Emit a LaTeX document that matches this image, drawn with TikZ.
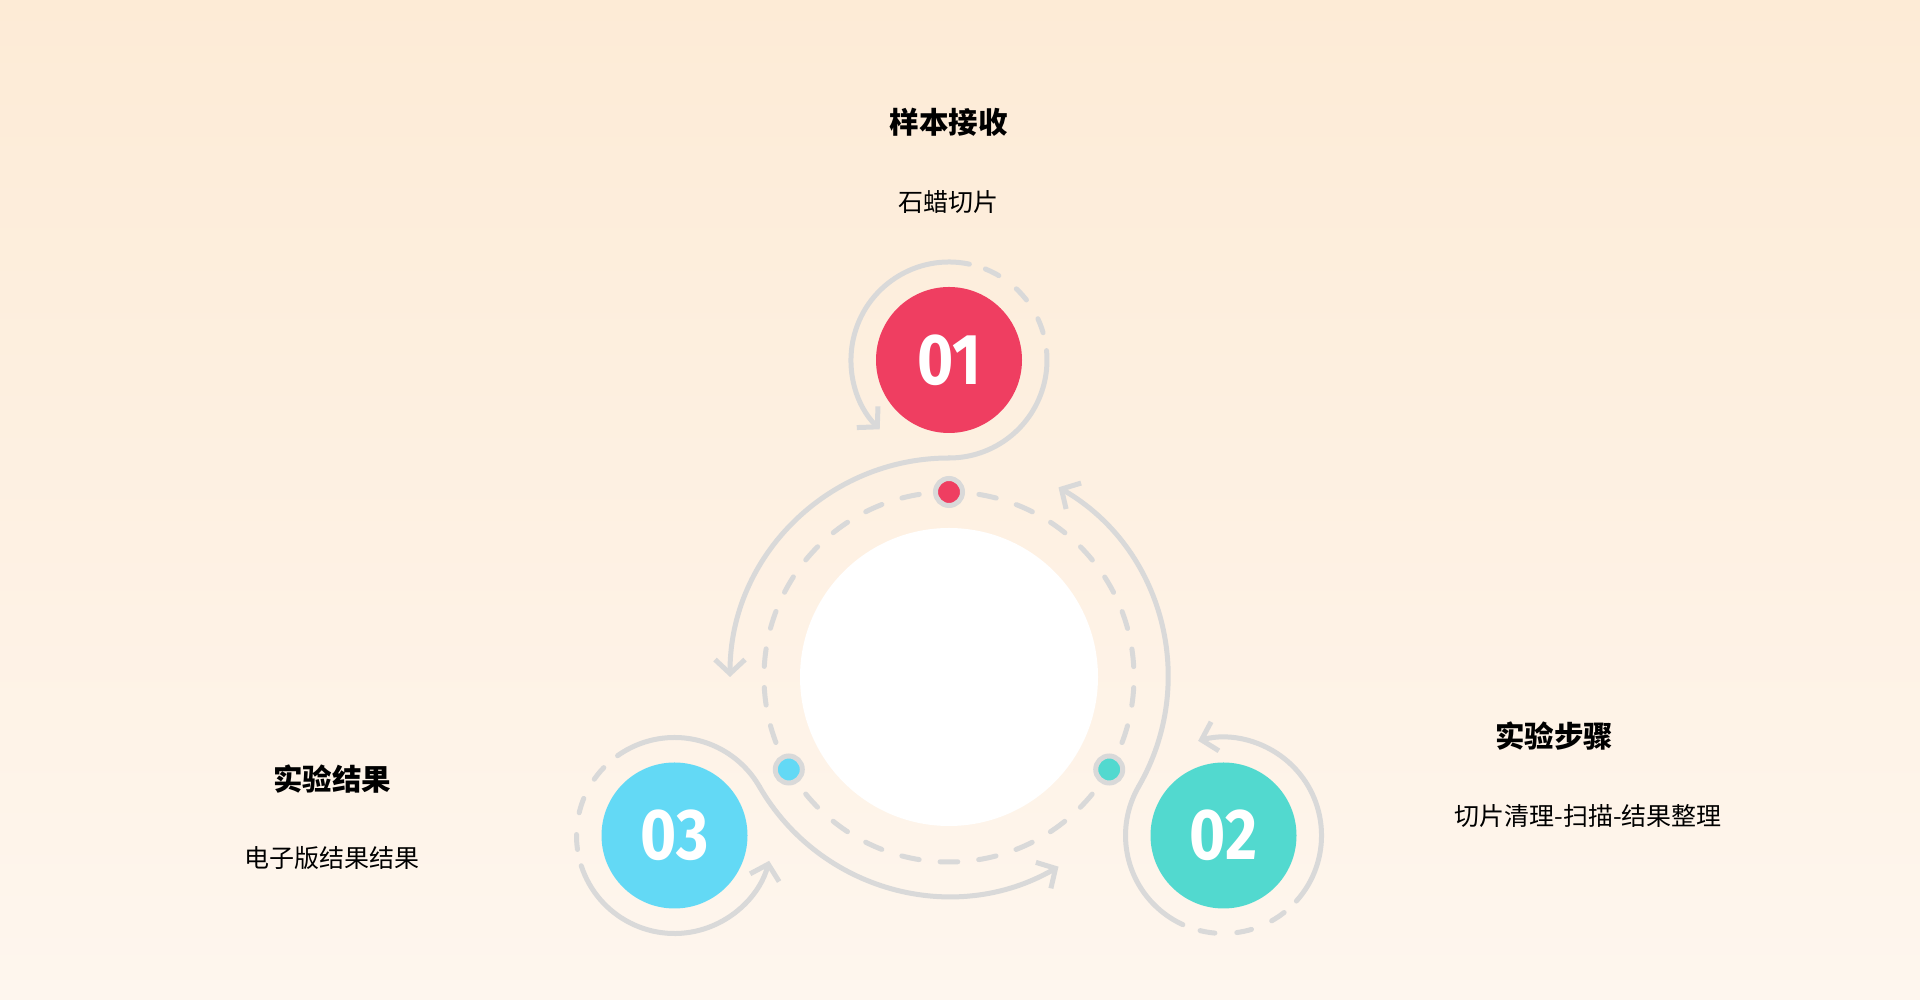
\documentclass[tikz,border=0pt]{standalone}
\usepackage{fontspec}
\usepackage{tikz}
\usepackage{xcolor}
\usetikzlibrary{positioning,arrows.meta}
\newfontfamily\cjk{Noto Sans CJK SC}
\newfontfamily\numfont{Fira Sans}
\definecolor{bg-top}{RGB}{253,235,214}
\definecolor{bg-bot}{RGB}{254,246,238}
\definecolor{line-a}{RGB}{217,217,217}
\definecolor{red-a}{RGB}{239,62,97}
\definecolor{teal-a}{RGB}{82,217,207}
\definecolor{blue-a}{RGB}{99,217,245}

\begin{document}
\begin{tikzpicture}
[
x=1pt, y=1pt,
line-a/.style={draw=line-a, line width=5pt, line cap=round},
dash-a/.style={line-a, dash pattern=on 17.7pt off 21.046pt, dash phase=8.85pt},
dash-b/.style={line-a, dash pattern=on 15pt off 22pt},
tip-a/.style={-{Straight Barb[length=14pt,width=30pt]}},
hub-a/.style={circle, fill=white, minimum size=298pt, inner sep=0pt},
dot-a/.style={circle, draw=line-a, line width=5pt, minimum size=27pt, inner sep=0pt},
num-a/.style={circle, minimum size=146pt, inner sep=0pt, text=white, font=\numfont\bfseries\fontsize{72}{72}\selectfont},
title-a/.style={font=\cjk\bfseries\fontsize{29.5}{34}\selectfont, inner sep=0pt},
text-a/.style={font=\cjk\fontsize{25}{29}\selectfont, inner sep=0pt}
]
\shade[top color=bg-top, bottom color=bg-bot] (0,0) rectangle (1920,1000);
\useasboundingbox (0,0) rectangle (1920,1000);

% ring round the hub
\node (hub) [hub-a] at (949,323) {};
\draw[dash-a] (hub.center) ++(0,185) arc[start angle=90, end angle=450, radius=185pt];

% one loop and one long arc per step
\foreach \a in {0,120,240}{
  \begin{scope}[shift={(949,323)}, rotate=\a]
    \draw[line-a]        (0,219) arc[start angle=-90, end angle=5.5, radius=98pt];
    \draw[line-a, tip-a] (0,219) arc[start angle=90, end angle=180, radius=219pt];
    \draw[line-a, tip-a] (0,317) ++(78:98pt) arc[start angle=78, end angle=225, radius=98pt];
    \draw[dash-b]        (0,317) ++(68.2:98pt) arc[start angle=68.2, end angle=15.5, radius=98pt];
  \end{scope}
}

\node (dot-1)   [dot-a, fill=red-a ] at (949,508)     {};
\node (dot-2)   [dot-a, fill=teal-a] at (1109.2,230.5) {};
\node (dot-3)   [dot-a, fill=blue-a] at (788.8,230.5)  {};

\node (num-1)   [num-a, fill=red-a ] at (949,640)      {\scalebox{0.86}[1]{01}};
\node (num-2)   [num-a, fill=teal-a] at (1223.5,164.5) {\scalebox{0.86}[1]{02}};
\node (num-3)   [num-a, fill=blue-a] at (674.5,164.5)  {\scalebox{0.86}[1]{03}};

\node (title-1) [title-a                              ] at (948.5,877.5) {样本接收};
\node (text-1)  [text-a, below = 53pt of title-1      ]                  {石蜡切片};
\node (title-2) [title-a                              ] at (1554,264)    {实验步骤};
\node (text-2)  [text-a, below = 54pt of title-2, xshift=34pt]           {切片清理-扫描-结果整理};
\node (title-3) [title-a                              ] at (332,220.5)   {实验结果};
\node (text-3)  [text-a, below = 52pt of title-3      ]                  {电子版结果结果};
\end{tikzpicture}
\end{document}
